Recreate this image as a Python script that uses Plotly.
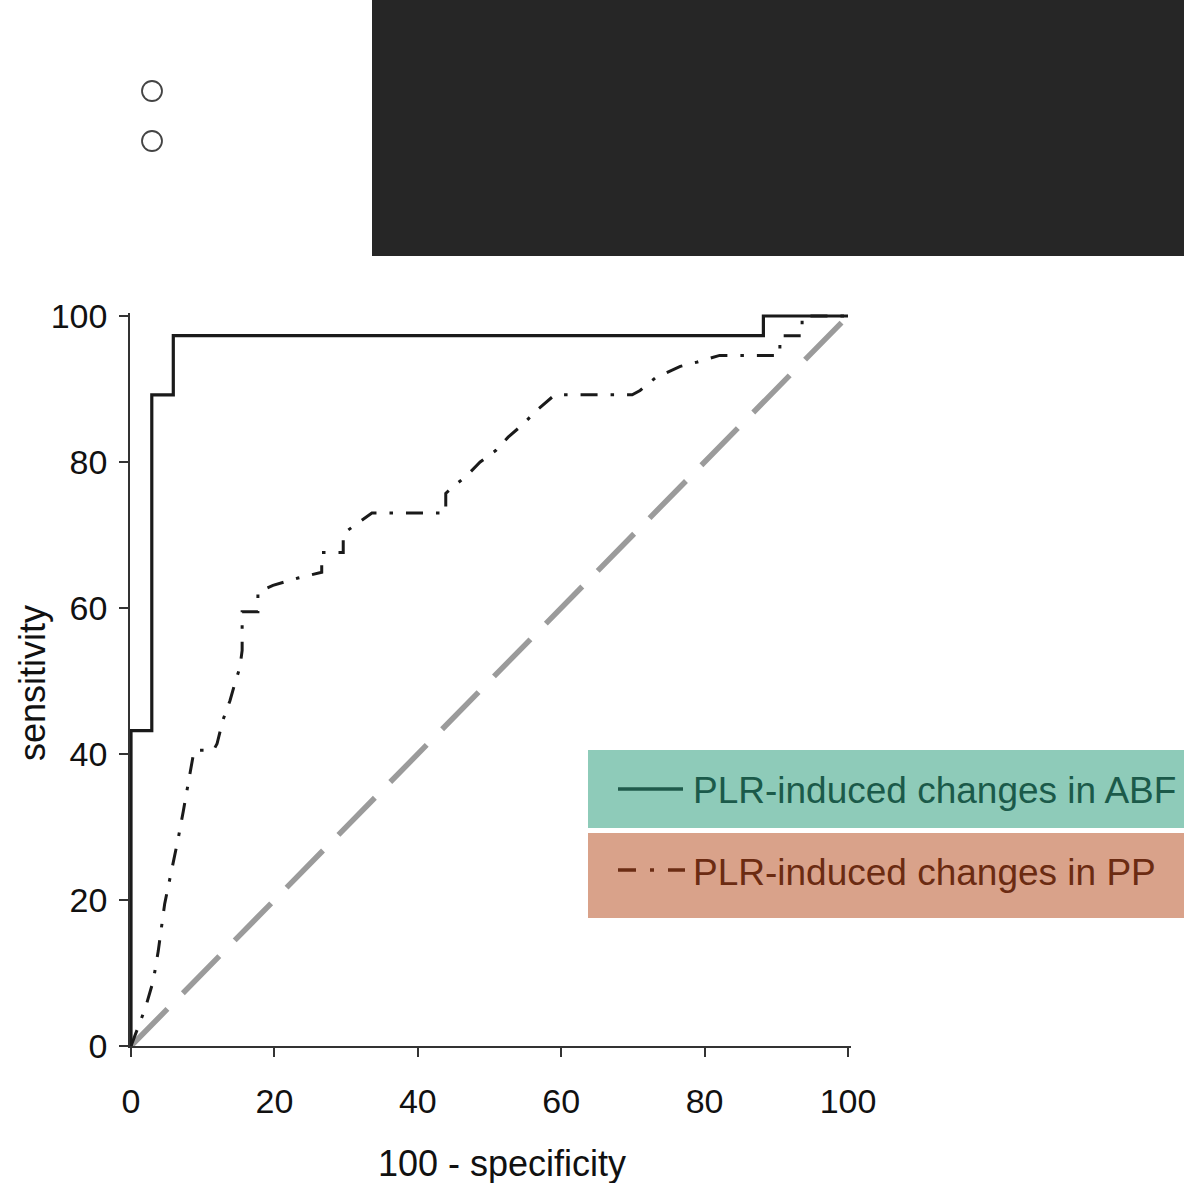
import plotly.graph_objects as go

# ---------------- data ----------------
abf_x = [0, 0, 2.9, 2.9, 5.9, 5.9, 88.2, 88.2, 100]
abf_y = [0, 43.2, 43.2, 89.2, 89.2, 97.3, 97.3, 100, 100]

pp_x = [0, 0.8, 2.0, 3.1, 3.8, 4.7, 5.9, 6.6, 7.3, 8.2, 8.8, 11.5, 12.0, 12.8, 13.8, 14.5,
        15.2, 15.5, 15.5, 17.7, 17.7, 19.8, 23.3, 26.6, 26.6, 29.6, 29.6, 33.6, 43.9, 43.9,
        44.8, 46.9, 48.7, 50.9, 52.6, 54.7, 56.6, 59.1, 69.9, 71.0, 73.1, 76.6, 79.0, 82.1,
        90.5, 90.5, 93.6, 93.6, 100]
pp_y = [0, 2.1, 5.2, 8.9, 13.0, 19.5, 25.0, 28.5, 32.2, 37.3, 40.5, 40.5, 41.4, 44.6, 47.3, 49.7,
        51.9, 54.2, 59.5, 59.5, 62.2, 63.1, 64.1, 64.9, 67.6, 67.6, 70.2, 73.0, 73.0, 75.7,
        76.5, 78.2, 80.0, 81.6, 83.4, 85.2, 87.1, 89.2, 89.2, 89.8, 91.5, 93.1, 93.7, 94.6,
        94.6, 97.3, 97.3, 100, 100]

ref_x = [0, 100]
ref_y = [0, 100]

tick_vals = [0, 20, 40, 60, 80, 100]
tick_text = ["0", "20", "40", "60", "80", "100"]

x_title = "100 - specificity"
y_title = "sensitivity"
legend_labels = ["PLR-induced changes in ABF", "PLR-induced changes in PP"]

# ---------------- layout geometry (pixels) ----------------
W, H = 1184, 1183
L, R, T, B = 130, 333, 313, 137
PW = W - L - R
PH = H - T - B


def px2x(px):
    return (px - L) / PW


def px2y(py):
    return (T + PH - py) / PH


KX = (848 - 131) / 100.0
KY = (1046 - 316) / 100.0
x_range = [-(131 - L) / KX, (W - R - 131) / KX]
y_range = [0, PH / KY]

FONT = "Liberation Sans, Arial, Helvetica, sans-serif"

fig = go.Figure()

fig.add_trace(go.Scatter(
    x=ref_x, y=ref_y, mode="lines",
    line=dict(color="#9b9b9b", width=5.5, dash="52px,22px"),
    showlegend=False, hoverinfo="skip"))

fig.add_trace(go.Scatter(
    x=pp_x, y=pp_y, mode="lines", name=legend_labels[1],
    line=dict(color="#1a1a1a", width=3, dash="17px,13px,3.5px,13px"),
    showlegend=False))

fig.add_trace(go.Scatter(
    x=abf_x, y=abf_y, mode="lines", name=legend_labels[0],
    line=dict(color="#1a1a1a", width=3.2),
    showlegend=False))

axis_common = dict(
    showgrid=False, zeroline=False, showline=True, linecolor="#333333", linewidth=1.5,
    ticks="outside", ticklen=9, tickwidth=1.5, tickcolor="#333333",
    tickvals=tick_vals, ticktext=tick_text,
    tickfont=dict(family=FONT, size=34, color="#111111"),
    automargin=False, fixedrange=True,
)

fig.update_xaxes(range=x_range, ticklabelstandoff=15, **axis_common)
fig.update_yaxes(range=y_range, ticklabelstandoff=5, **axis_common)

shapes = []
# dark block at the top
shapes.append(dict(type="rect", xref="paper", yref="paper",
                   x0=px2x(372), x1=px2x(1190), y0=px2y(256), y1=px2y(-5),
                   fillcolor="#262626", line=dict(width=0), layer="above"))
# two small open circles
for cy in (91, 141):
    shapes.append(dict(type="circle", xref="paper", yref="paper",
                       x0=px2x(142), x1=px2x(162), y0=px2y(cy + 10), y1=px2y(cy - 10),
                       fillcolor="white", line=dict(color="#444444", width=1.8), layer="above"))
# legend boxes
shapes.append(dict(type="rect", xref="paper", yref="paper",
                   x0=px2x(588), x1=px2x(1190), y0=px2y(828), y1=px2y(750),
                   fillcolor="#8ecbb9", line=dict(width=0), layer="above"))
shapes.append(dict(type="rect", xref="paper", yref="paper",
                   x0=px2x(588), x1=px2x(1190), y0=px2y(918), y1=px2y(833),
                   fillcolor="#d9a28a", line=dict(width=0), layer="above"))
# legend line samples
shapes.append(dict(type="line", xref="paper", yref="paper",
                   x0=px2x(618), x1=px2x(683), y0=px2y(789), y1=px2y(789),
                   line=dict(color="#1f5a4b", width=3.5), layer="above"))
shapes.append(dict(type="line", xref="paper", yref="paper",
                   x0=px2x(618), x1=px2x(685), y0=px2y(870), y1=px2y(870),
                   line=dict(color="#6b2d14", width=3.5, dash="18px,14px,4px,14px"), layer="above"))

annotations = [
    dict(text=x_title, xref="paper", yref="paper", x=px2x(502), y=px2y(1163),
         xanchor="center", yanchor="middle", showarrow=False,
         font=dict(family=FONT, size=36, color="#111111")),
    dict(text=y_title, xref="paper", yref="paper", x=px2x(32), y=px2y(683),
         xanchor="center", yanchor="middle", showarrow=False, textangle=-90,
         font=dict(family=FONT, size=36, color="#111111")),
    dict(text=legend_labels[0], xref="paper", yref="paper", x=px2x(691), y=px2y(790),
         xanchor="left", yanchor="middle", showarrow=False,
         font=dict(family=FONT, size=37, color="#1b5a4a")),
    dict(text=legend_labels[1], xref="paper", yref="paper", x=px2x(691), y=px2y(872),
         xanchor="left", yanchor="middle", showarrow=False,
         font=dict(family=FONT, size=37, color="#6b2b12")),
]

fig.update_layout(
    width=W, height=H, autosize=False,
    margin=dict(l=L, r=R, t=T, b=B, pad=0),
    paper_bgcolor="white", plot_bgcolor="white",
    template="none", showlegend=False,
    shapes=shapes, annotations=annotations,
)

fig.write_html(
    "out.html",
    config={"displayModeBar": False},
    post_script="document.body.style.margin='0';document.body.style.padding='0';"
                "document.body.style.overflow='hidden';",
)
